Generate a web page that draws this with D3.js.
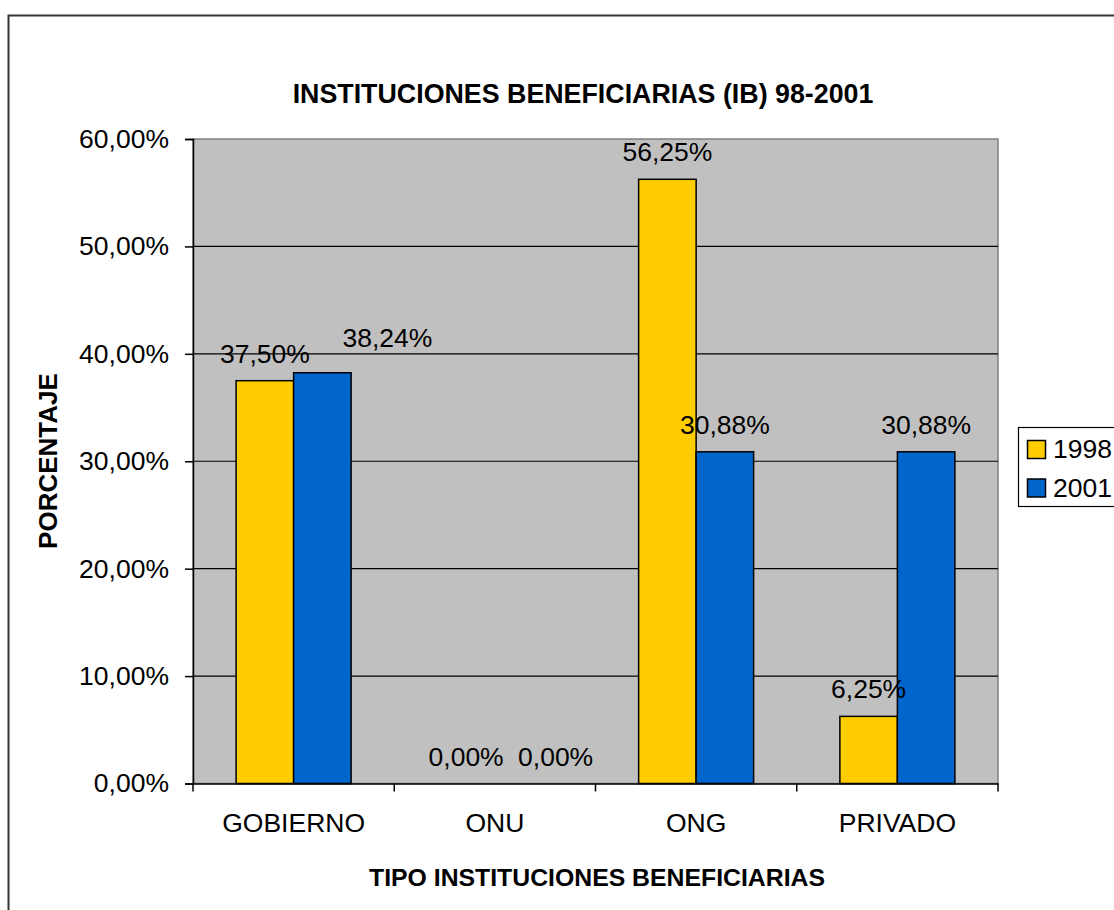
<!DOCTYPE html>
<html>
<head>
<meta charset="utf-8">
<script src="https://cdnjs.cloudflare.com/ajax/libs/d3/7.8.5/d3.min.js"></script>
<style>
  body { margin: 0; background: #fff; }
  text { font-family: Arial, "Liberation Sans", sans-serif; }
</style>
</head>
<body>
<div id="chart"></div>
<script>
// data
var categories = ["GOBIERNO", "ONU", "ONG", "PRIVADO"];
var seriesNames = ["1998", "2001"];
var values1998 = [0.375, 0.0, 0.5625, 0.0625];
var values2001 = [0.3824, 0.0, 0.3088, 0.3088];
var yTicks = [0, 0.1, 0.2, 0.3, 0.4, 0.5, 0.6];

var colors = {"1998": "#FFCC00", "2001": "#0066CC"};

// a couple of labels were moved by hand in the original
var labelNudge = {"GOBIERNO|2001": {dx: 65, dy: -8}, "ONU|2001": {dx: 32, dy: 0}};

var width = 1114, height = 910;
var plot = {left: 193, top: 139, right: 998, bottom: 783.5};
var fs = "26.5px";

var locale = d3.formatLocale({decimal: ",", thousands: ".", grouping: [3], currency: ["", ""]});
var pct = locale.format(".2%");

var svg = d3.select("#chart").append("svg")
  .attr("width", width)
  .attr("height", height);

// outer chart border (runs off the right and bottom)
svg.append("rect")
  .attr("x", 8.5).attr("y", 15.5)
  .attr("width", 1130).attr("height", 920)
  .attr("fill", "#fff")
  .attr("stroke", "#333")
  .attr("stroke-width", 2);

var x0 = d3.scaleBand().domain(categories).range([plot.left, plot.right]);
var x1 = d3.scaleBand().domain(seriesNames).range([0, x0.bandwidth()]).paddingOuter(0.75);
var y = d3.scaleLinear().domain([0, 0.6]).range([plot.bottom, plot.top]);

// plot area
svg.append("rect")
  .attr("x", plot.left).attr("y", plot.top)
  .attr("width", plot.right - plot.left).attr("height", plot.bottom - plot.top)
  .attr("fill", "#C0C0C0")
  .attr("stroke", "#808080")
  .attr("stroke-width", 1.5);

// gridlines
svg.append("g").selectAll("line")
  .data(yTicks.filter(function(d) { return d > 0 && d < 0.6; }))
  .join("line")
  .attr("x1", plot.left).attr("x2", plot.right)
  .attr("y1", function(d) { return y(d); }).attr("y2", function(d) { return y(d); })
  .attr("stroke", "#000").attr("stroke-width", 1.2);

// bars
var rows = categories.map(function(c, i) {
  return {cat: c, vals: [{s: "1998", v: values1998[i]}, {s: "2001", v: values2001[i]}]};
});

var groups = svg.append("g").selectAll("g")
  .data(rows)
  .join("g")
  .attr("transform", function(d) { return `translate(${x0(d.cat)},0)`; });

groups.selectAll("rect")
  .data(function(d) { return d.vals.filter(function(e) { return e.v > 0; }); })
  .join("rect")
  .attr("x", function(d) { return x1(d.s); })
  .attr("y", function(d) { return y(d.v); })
  .attr("width", x1.bandwidth())
  .attr("height", function(d) { return y(0) - y(d.v); })
  .attr("fill", function(d) { return colors[d.s]; })
  .attr("stroke", "#000")
  .attr("stroke-width", 1.5);

// value labels
groups.selectAll("text")
  .data(function(d) { return d.vals.map(function(e) { return {cat: d.cat, s: e.s, v: e.v}; }); })
  .join("text")
  .attr("x", function(d) {
    var n = labelNudge[d.cat + "|" + d.s];
    return x1(d.s) + x1.bandwidth() / 2 + (n ? n.dx : 0);
  })
  .attr("y", function(d) {
    var n = labelNudge[d.cat + "|" + d.s];
    return y(d.v) - 18 + (n ? n.dy : 0);
  })
  .attr("text-anchor", "middle")
  .attr("font-size", fs)
  .attr("fill", "#000")
  .text(function(d) { return pct(d.v); });

// y axis
var yAxis = svg.append("g")
  .attr("transform", `translate(${plot.left},0)`)
  .call(d3.axisLeft(y).tickValues(yTicks).tickFormat(pct).tickSize(8).tickPadding(16));
yAxis.selectAll("text").attr("font-size", fs).attr("font-family", "Arial, 'Liberation Sans', sans-serif").attr("fill", "#000");
yAxis.selectAll("line, path").attr("stroke", "#000").attr("stroke-width", 1.5);

// x axis
var xAxis = svg.append("g")
  .attr("transform", `translate(0,${plot.bottom})`)
  .call(d3.axisBottom(x0).tickSize(0).tickPadding(30));
xAxis.selectAll("text").attr("font-size", fs).attr("font-family", "Arial, 'Liberation Sans', sans-serif").attr("fill", "#000");
xAxis.select("path").attr("stroke", "#000").attr("stroke-width", 1.5);

var bounds = categories.map(function(c) { return x0(c); }).concat([plot.right]);
xAxis.selectAll(".bound")
  .data(bounds)
  .join("line")
  .attr("class", "bound")
  .attr("x1", function(d) { return d; }).attr("x2", function(d) { return d; })
  .attr("y1", 0).attr("y2", 8)
  .attr("stroke", "#000").attr("stroke-width", 1.5);

// titles
svg.append("text")
  .attr("x", 583).attr("y", 103)
  .attr("text-anchor", "middle")
  .attr("font-size", "26.8px").attr("font-weight", "bold")
  .text("INSTITUCIONES BENEFICIARIAS (IB) 98-2001");

svg.append("text")
  .attr("x", 597).attr("y", 886)
  .attr("text-anchor", "middle")
  .attr("font-size", "24.8px").attr("font-weight", "bold")
  .text("TIPO INSTITUCIONES BENEFICIARIAS");

svg.append("text")
  .attr("transform", "translate(57,461) rotate(-90)")
  .attr("text-anchor", "middle")
  .attr("font-size", "26px").attr("font-weight", "bold")
  .text("PORCENTAJE");

// legend
var legend = svg.append("g").attr("transform", "translate(1018,427)");
legend.append("rect")
  .attr("x", 0.5).attr("y", 0.5)
  .attr("width", 120).attr("height", 79)
  .attr("fill", "#fff").attr("stroke", "#000").attr("stroke-width", 1.2);

var items = legend.selectAll(".item")
  .data(seriesNames)
  .join("g")
  .attr("class", "item")
  .attr("transform", function(d, i) { return `translate(0,${13 + i * 38.5})`; });
items.append("rect")
  .attr("x", 9.5).attr("y", 0.5)
  .attr("width", 18).attr("height", 18)
  .attr("fill", function(d) { return colors[d]; })
  .attr("stroke", "#000").attr("stroke-width", 1.5);
items.append("text")
  .attr("x", 35).attr("y", 18)
  .attr("font-size", fs)
  .text(function(d) { return d; });
</script>
</body>
</html>
